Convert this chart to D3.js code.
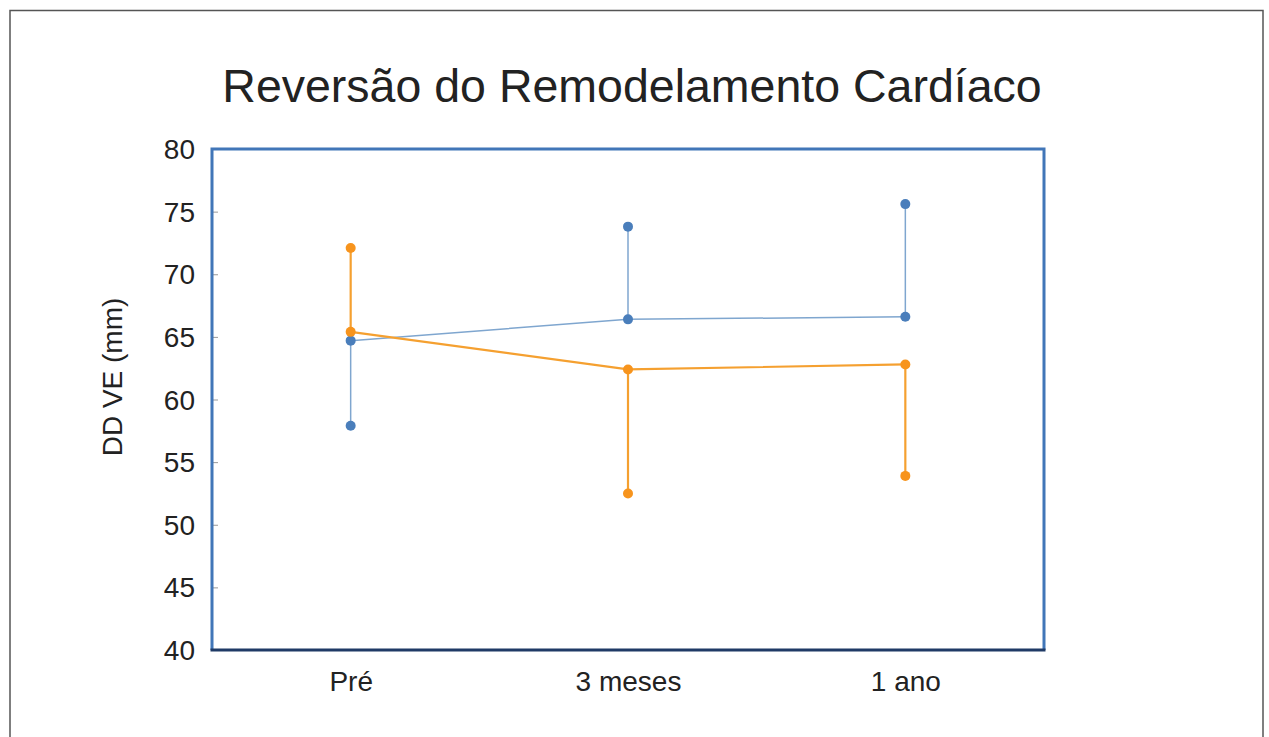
<!DOCTYPE html>
<html><head><meta charset="utf-8">
<script src="https://cdn.jsdelivr.net/npm/d3@7"></script>
<style>body{margin:0;background:#fff;}svg{display:block;}</style>
</head><body>
<svg id="c" width="1269" height="737"></svg>
<script>
const categories = ["Pré", "3 meses", "1 ano"];
const blueMean = [64.7, 66.4, 66.6];
const blueErr = [57.9, 73.8, 75.6];
const orangeMean = [65.4, 62.4, 62.8];
const orangeErr = [72.1, 52.5, 53.9];
const yTicks = [40, 45, 50, 55, 60, 65, 70, 75, 80];
const title = "Reversão do Remodelamento Cardíaco";
const yTitle = "DD VE (mm)";

const svg = d3.select("#c");
const font = "'Liberation Sans', Arial, sans-serif";
// outer frame
svg.append("path").attr("d","M10,745 V10.5 H1263 V745").attr("fill","none").attr("stroke","#555").attr("stroke-width",1.5);

const m = {l:212, t:149, r:1044, b:650};
const x = d3.scalePoint().domain(categories).range([m.l, m.r]).padding(0.5);
const y = d3.scaleLinear().domain([40, 80]).range([m.b, m.t]);

svg.append("text").attr("x", 632).attr("y", 102).attr("text-anchor","middle")
  .attr("font-family", font).attr("font-size", 46.5).attr("fill","#222").text(title);

// y axis
const ya = svg.append("g").attr("transform",`translate(${m.l},0)`)
  .call(d3.axisRight(y).tickValues(yTicks).tickSize(6).tickFormat(""));
ya.select(".domain").remove();
ya.selectAll("line").attr("stroke","#999");
yTicks.forEach(t => {
  svg.append("text").attr("x", 195).attr("y", y(t)).attr("dy","0.36em").attr("text-anchor","end")
    .attr("font-family", font).attr("font-size", 28).attr("fill","#222").text(t);
});
// x labels
const xa = svg.append("g").attr("transform",`translate(0,${m.b})`)
  .call(d3.axisBottom(x).tickSize(0).tickPadding(0));
xa.select(".domain").remove();
xa.selectAll("text").attr("font-family", font).attr("font-size", 28).attr("fill","#222").attr("y", 41).attr("dy","0");

svg.append("text").attr("transform",`translate(122,377) rotate(-90)`).attr("text-anchor","middle")
  .attr("font-family", font).attr("font-size", 28).attr("fill","#222").text(yTitle);

// series
function series(mean, err, lineCol, dotCol, lw){
  const g = svg.append("g");
  g.selectAll("line.err").data(categories).join("line")
    .attr("x1", d=>x(d)).attr("x2", d=>x(d))
    .attr("y1",(d,i)=>y(mean[i])).attr("y2",(d,i)=>y(err[i]))
    .attr("stroke", lineCol).attr("stroke-width", lw);
  g.append("path").datum(categories)
    .attr("d", d3.line().x(d=>x(d)).y((d,i)=>y(mean[i])))
    .attr("fill","none").attr("stroke", lineCol).attr("stroke-width", lw);
  g.selectAll("circle.m").data(categories).join("circle")
    .attr("cx", d=>x(d)).attr("cy",(d,i)=>y(mean[i])).attr("r",5).attr("fill",dotCol);
  g.selectAll("circle.e").data(categories).join("circle")
    .attr("cx", d=>x(d)).attr("cy",(d,i)=>y(err[i])).attr("r",5).attr("fill",dotCol);
}
series(blueMean, blueErr, "#7fa6cf", "#4a7ebb", 1.5);
series(orangeMean, orangeErr, "#f5a030", "#f7941d", 2.2);

// plot frame
svg.append("path").attr("d",`M${m.l},${m.b} V${m.t} H${m.r} V${m.b}`).attr("fill","none").attr("stroke","#4176b8").attr("stroke-width",3);
svg.append("line").attr("x1",m.l-1.5).attr("x2",m.r+1.5).attr("y1",m.b).attr("y2",m.b).attr("stroke","#1f3a66").attr("stroke-width",3);
</script>
</body></html>
